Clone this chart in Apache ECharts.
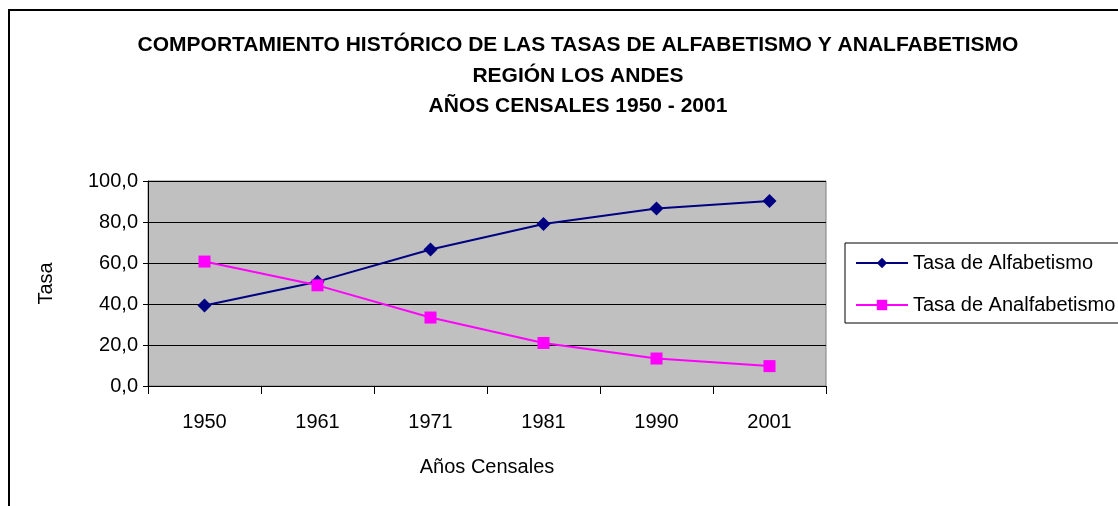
<!DOCTYPE html>
<html>
<head>
<meta charset="utf-8">
<script src="https://cdn.jsdelivr.net/npm/echarts@6/dist/echarts.min.js"></script>
<style>
  html, body { margin: 0; padding: 0; background: #fff; }
  #chart { width: 1118px; height: 506px; }
</style>
</head>
<body>
<div id="chart"></div>
<script>
// --- Data ---
const years = ['1950', '1961', '1971', '1981', '1990', '2001'];
const alfabetismo = [39.3, 50.9, 66.6, 79.0, 86.6, 90.3];
const analfabetismo = [60.7, 49.1, 33.4, 21.0, 13.4, 9.7];

const FONT = '"Liberation Sans", Arial, sans-serif';

const chart = echarts.init(document.getElementById('chart'));
chart.setOption({
    backgroundColor: '#fff',
    title: {
        text: 'COMPORTAMIENTO HISTÓRICO DE LAS TASAS DE ALFABETISMO Y ANALFABETISMO\nREGIÓN LOS ANDES\nAÑOS CENSALES 1950 - 2001',
        left: 573,
        top: 25,
        textAlign: 'center',
        textStyle: { fontFamily: FONT, fontSize: 21, fontWeight: 'bold', color: '#000', lineHeight: 30.5 }
    },
    graphic: [{
        type: 'rect',
        shape: { x: 9, y: 10, width: 1300, height: 700 },
        style: { fill: 'none', stroke: '#000', lineWidth: 2 },
        silent: true
    }],
    legend: {
        orient: 'vertical',
        left: 845,
        top: 243,
        padding: [10, 30, 8, 10],
        itemGap: 22,
        itemWidth: 52,
        itemHeight: 13,
        borderColor: '#000',
        borderWidth: 1,
        textStyle: { fontFamily: FONT, fontSize: 20, color: '#000' },
        data: ['Tasa de Alfabetismo', 'Tasa de Analfabetismo']
    },
    grid: {
        left: 148, top: 181, width: 678, height: 205,
        show: true, borderColor: '#808080', borderWidth: 1, backgroundColor: '#c0c0c0'
    },
    xAxis: {
        type: 'category',
        data: years,
        boundaryGap: true,
        name: 'Años Censales',
        nameLocation: 'middle',
        nameGap: 71,
        nameTextStyle: { fontFamily: FONT, fontSize: 20, color: '#000' },
        axisLine: { lineStyle: { color: '#000', width: 1 } },
        axisTick: { show: true, length: 8, inside: false, lineStyle: { color: '#000' } },
        axisLabel: { fontFamily: FONT, fontSize: 20, color: '#000', margin: 26 }
    },
    yAxis: {
        type: 'value',
        min: 0,
        max: 100,
        interval: 20,
        name: 'Tasa',
        nameLocation: 'middle',
        nameGap: 92,
        nameRotate: 90,
        nameTextStyle: { fontFamily: FONT, fontSize: 20, color: '#000' },
        axisLine: { show: true, lineStyle: { color: '#000', width: 1 } },
        axisTick: { show: true, length: 5, lineStyle: { color: '#000' } },
        axisLabel: {
            fontFamily: FONT, fontSize: 20, color: '#000', margin: 10,
            formatter: v => v.toFixed(1).replace('.', ',')
        },
        splitLine: { show: true, lineStyle: { color: '#000', width: 1 } }
    },
    series: [{
        name: 'Tasa de Alfabetismo',
        type: 'line',
        data: alfabetismo,
        symbol: 'diamond',
        symbolSize: 14,
        lineStyle: { color: '#000080', width: 2 },
        itemStyle: { color: '#000080' }
    }, {
        name: 'Tasa de Analfabetismo',
        type: 'line',
        data: analfabetismo,
        symbol: 'rect',
        symbolSize: 12,
        lineStyle: { color: '#ff00ff', width: 2 },
        itemStyle: { color: '#ff00ff' }
    }]
});
</script>
</body>
</html>
